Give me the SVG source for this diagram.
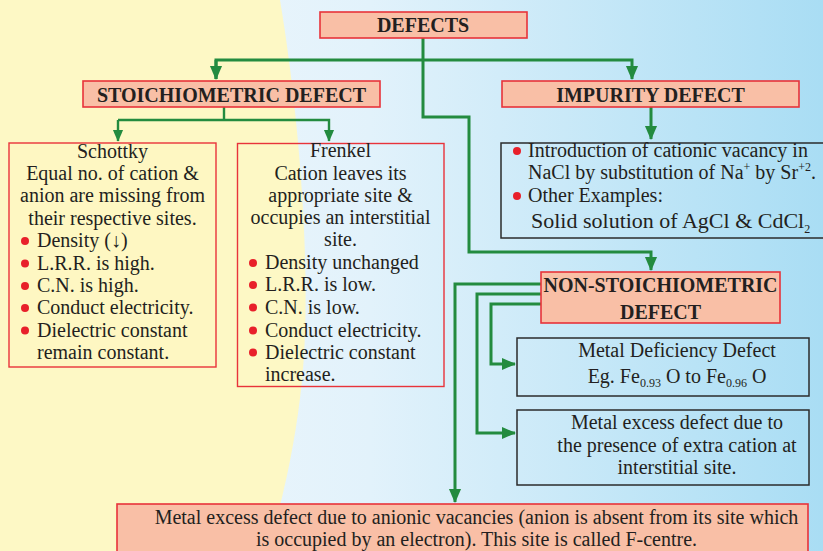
<svg xmlns="http://www.w3.org/2000/svg" width="823" height="551" viewBox="0 0 823 551">
<defs>
<linearGradient id="bg" x1="0" y1="0" x2="1" y2="0">
<stop offset="0" stop-color="#f4f9fd"/>
<stop offset="0.45" stop-color="#e2f2fb"/>
<stop offset="1" stop-color="#a9ddf4"/>
</linearGradient>
<marker id="ah" markerUnits="userSpaceOnUse" markerWidth="14" markerHeight="16" refX="15" refY="7" orient="auto" viewBox="0 0 16 14">
<path d="M0,0 L16,7 L0,14 Z" fill="#238b3f"/>
</marker>
<marker id="ahs" markerUnits="userSpaceOnUse" markerWidth="12" markerHeight="14" refX="13" refY="6" orient="auto" viewBox="0 0 14 12">
<path d="M0,0 L14,6 L0,12 Z" fill="#238b3f"/>
</marker>
<style>
.hd{fill:#f9bfa6;stroke:#e8333a;stroke-width:1.6}
.rb{fill:none;stroke:#e8333a;stroke-width:1.4}
.db{fill:none;stroke:#2b2b2b;stroke-width:1.5}
.ht{font-family:"Liberation Serif","Times New Roman",serif;font-weight:bold;font-size:20px;fill:#231f20;text-anchor:middle}
.t{font-family:"Liberation Serif","Times New Roman",serif;font-size:20px;fill:#231f20}
.c{text-anchor:middle}
.big{font-size:22px}
.sm{font-size:12px}
.dot{fill:#e8202a}
.ln{fill:none;stroke:#238b3f;stroke-width:3}
.lns{fill:none;stroke:#238b3f;stroke-width:2.4}
</style>
</defs>
<rect x="0" y="0" width="823" height="551" fill="url(#bg)"/>
<path d="M0,0 L280,0 C300,120 312,280 302,380 C296,440 285,490 268,551 L0,551 Z" fill="#fdf8c5"/>

<g id="connectors">
<path class="ln" d="M423,38 V117 H469 V252 H651 V270" marker-end="url(#ah)"/>
<path class="ln" d="M216,79 V60 H632 V79" marker-end="url(#ah)"/>
<path class="ln" d="M216,60 V79" marker-end="url(#ah)"/>
<path class="lns" d="M224,107 V120"/>
<path class="lns" d="M118,120 H329 V141" marker-end="url(#ahs)"/>
<path class="lns" d="M118,120 V141" marker-end="url(#ahs)"/>
<path class="ln" d="M651,107 V139" marker-end="url(#ah)"/>
<path class="ln" d="M541,284 H455 V502" marker-end="url(#ah)"/>
<path class="ln" d="M541,294 H477 V433 H515" marker-end="url(#ah)"/>
<path class="ln" d="M541,304 H491 V364 H515" marker-end="url(#ah)"/>
</g>

<g id="defects">
<rect class="hd" x="320" y="12" width="207" height="26"/>
<text class="ht" x="423" y="32">DEFECTS</text>
</g>

<g id="stoichiometric">
<rect class="hd" x="83" y="81" width="297" height="26"/>
<text class="ht" x="231.5" y="102">STOICHIOMETRIC DEFECT</text>
</g>

<g id="impurity">
<rect class="hd" x="502" y="81" width="297" height="26"/>
<text class="ht" x="650.5" y="102">IMPURITY DEFECT</text>
</g>

<g id="schottky">
<rect x="9" y="143" width="207" height="224" fill="#fef7c2" stroke="#e8333a" stroke-width="1.4"/>
<text class="t c" x="112.5" y="157.5">Schottky</text>
<text class="t c" x="112.5" y="179.5">Equal no. of cation &amp;</text>
<text class="t c" x="112.5" y="202">anion are missing from</text>
<text class="t c" x="112.5" y="224.5">their respective sites.</text>
<circle class="dot" cx="25" cy="241" r="4"/>
<text class="t" x="37" y="247">Density (↓)</text>
<circle class="dot" cx="25" cy="263.5" r="4"/>
<text class="t" x="37" y="269.5">L.R.R. is high.</text>
<circle class="dot" cx="25" cy="286" r="4"/>
<text class="t" x="37" y="292">C.N. is high.</text>
<circle class="dot" cx="25" cy="308" r="4"/>
<text class="t" x="37" y="314">Conduct electricity.</text>
<circle class="dot" cx="25" cy="330.5" r="4"/>
<text class="t" x="37" y="336.5">Dielectric constant</text>
<text class="t" x="37" y="358.5">remain constant.</text>
</g>

<g id="frenkel">
<rect class="rb" x="237.5" y="143.5" width="206.5" height="243"/>
<text class="t c" x="340.5" y="157">Frenkel</text>
<text class="t c" x="340.5" y="179.5">Cation leaves its</text>
<text class="t c" x="340.5" y="202">appropriate site &amp;</text>
<text class="t c" x="340.5" y="224">occupies an interstitial</text>
<text class="t c" x="340.5" y="246">site.</text>
<circle class="dot" cx="253" cy="263" r="4"/>
<text class="t" x="265" y="269">Density unchanged</text>
<circle class="dot" cx="253" cy="285" r="4"/>
<text class="t" x="265" y="291">L.R.R. is low.</text>
<circle class="dot" cx="253" cy="307.5" r="4"/>
<text class="t" x="265" y="313.5">C.N. is low.</text>
<circle class="dot" cx="253" cy="330.5" r="4"/>
<text class="t" x="265" y="336.5">Conduct electricity.</text>
<circle class="dot" cx="253" cy="352.5" r="4"/>
<text class="t" x="265" y="358.5">Dielectric constant</text>
<text class="t" x="265" y="380.5">increase.</text>
</g>

<g id="impurity-details">
<rect class="db" x="501" y="143" width="330" height="95"/>
<circle class="dot" cx="517" cy="151" r="4"/>
<text class="t" x="528" y="157">Introduction of cationic vacancy in</text>
<text class="t" x="528" y="179">NaCl by substitution of Na<tspan class="sm" dy="-8">+</tspan><tspan dy="8"> by Sr</tspan><tspan class="sm" dy="-8">+2</tspan><tspan dy="8">.</tspan></text>
<circle class="dot" cx="517" cy="196" r="4"/>
<text class="t" x="528" y="202">Other Examples:</text>
<text class="t big" x="531" y="228">Solid solution of AgCl &amp; CdCl<tspan class="sm" dy="5">2</tspan></text>
</g>

<g id="non-stoichiometric">
<rect class="hd" x="541" y="272" width="239" height="51"/>
<text class="ht" x="660.5" y="292">NON-STOICHIOMETRIC</text>
<text class="ht" x="660.5" y="319">DEFECT</text>
</g>

<g id="metal-deficiency">
<rect class="db" x="517" y="338" width="292" height="58"/>
<text class="t c" x="677" y="357">Metal Deficiency Defect</text>
<text class="t c" x="677" y="383">Eg. Fe<tspan class="sm" dy="4">0.93</tspan><tspan dy="-4"> O to Fe</tspan><tspan class="sm" dy="4">0.96</tspan><tspan dy="-4"> O</tspan></text>
</g>

<g id="metal-excess-cation">
<rect class="db" x="517" y="410" width="292" height="75"/>
<text class="t c" x="677" y="429">Metal excess defect due to</text>
<text class="t c" x="677" y="452">the presence of extra cation at</text>
<text class="t c" x="677" y="474">interstitial site.</text>
</g>

<g id="metal-excess-anion">
<rect class="hd" x="117" y="504" width="691" height="52"/>
<text class="t c" x="476.5" y="523.5">Metal excess defect due to anionic vacancies (anion is absent from its site which</text>
<text class="t c" x="476.5" y="545.5">is occupied by an electron). This site is called F-centre.</text>
</g>
</svg>
